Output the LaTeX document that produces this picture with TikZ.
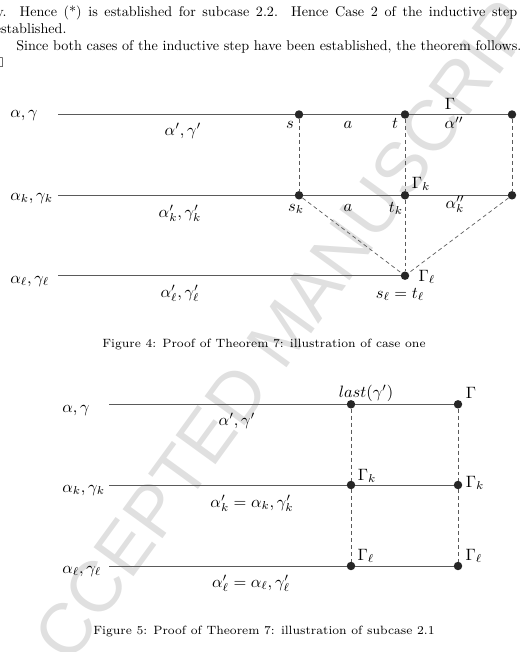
\documentclass[tikz,border=0pt]{standalone}
\usepackage{amsmath,amssymb}
\usepackage{fontspec}
\newfontfamily\markfont{Liberation Sans}
\usetikzlibrary{calc}
\definecolor{linegray}{RGB}{90,90,90}
\definecolor{markgray}{RGB}{224,224,224}

\tikzset{
  body/.style={scale=1.42,inner sep=0pt,anchor=base west},
  captext/.style={font=\scriptsize,scale=1.72,inner sep=0pt,anchor=base},
  lbl/.style={scale=1.65,inner sep=0pt,anchor=base},
  row/.style={linegray,line width=0.9pt},
  link/.style={linegray,line width=0.7pt,dash pattern=on 4pt off 3pt},
  dot/.style={circle,fill=black!85,inner sep=0pt,minimum size=8.5pt}
}

\begin{document}
\begin{tikzpicture}[x=1bp,y=-1bp]
  \useasboundingbox (0,0) rectangle (523,652);
  \clip (0,0) rectangle (523,652);
  % watermark
  \node[markgray,rotate=54,font=\markfont\fontsize{72}{72}\selectfont] (mark) at (282,332) {ACCEPTED MANUSCRIPT};
  % end of the proof
  \node[body] (line1) at (-4,17) {\makebox[366.9bp][s]{y.\ \ Hence (*) is established for subcase 2.2.\ \ Hence Case 2 of the inductive step}};
  \node[body] (line2) at (-5.5,34) {established.};
  \node[body] (line3) at (16,51) {Since both cases of the inductive step have been established, the theorem follows.};
  \node[body,anchor=base east] (qed) at (4,68) {$\square$};

  % figure 4: case one
  \coordinate (a0) at (58,114.5);
  \node[dot] (s) at (299,114.5) {};
  \node[dot] (t) at (405,114.5) {};
  \node[dot] (e) at (512,114.5) {};
  \coordinate (b0) at (58,195.3);
  \node[dot] (sk) at (299,195.3) {};
  \node[dot] (tk) at (405,195.3) {};
  \node[dot] (ek) at (512,195.3) {};
  \coordinate (c0) at (58,275.7);
  \node[dot] (sl) at (405,275.7) {};
  \draw[row] (a0) -- (s) -- (t) -- (e);
  \draw[row] (b0) -- (sk) -- (tk) -- (ek);
  \draw[row] (c0) -- (sl);
  \draw[link] (s) -- (sk);
  \draw[link] (t) -- (tk) -- (sl);
  \draw[link] (e) -- (ek);
  \draw[link] (sk) -- (sl);
  \draw[link] (ek) -- (sl);
  \node[lbl,anchor=base west] (ag) at (10,117.5) {$\alpha, \gamma$};
  \node[lbl,anchor=base west] (agk) at (10,200) {$\alpha_k, \gamma_k$};
  \node[lbl,anchor=base west] (agl) at (10,283) {$\alpha_\ell, \gamma_\ell$};
  \node[lbl] (ag1) at (183,135) {$\alpha', \gamma'$};
  \node[lbl] (agk1) at (180,217) {$\alpha'_k, \gamma'_k$};
  \node[lbl] (agl1) at (180,297) {$\alpha'_\ell, \gamma'_\ell$};
  \node[lbl] (ls) at (290,129) {$s$};
  \node[lbl] (la) at (348,129) {$a$};
  \node[lbl] (lt) at (395,129) {$t$};
  \node[lbl] (la2) at (454,129) {$\alpha''$};
  \node[lbl] (lG) at (450,109.5) {$\Gamma$};
  \node[lbl] (lsk) at (296,211) {$s_k$};
  \node[lbl] (lak) at (348,211) {$a$};
  \node[lbl] (ltk) at (396,212) {$t_k$};
  \node[lbl] (la2k) at (455,208) {$\alpha''_k$};
  \node[lbl] (lGk) at (421,188) {$\Gamma_k$};
  \node[lbl] (lGl) at (427,281) {$\Gamma_\ell$};
  \node[lbl] (lsl) at (400,298) {$s_\ell = t_\ell$};
  \node[captext] (cap4) at (264,347) {Figure 4: Proof of Theorem 7: illustration of case one};

  % figure 5: subcase 2.1
  \coordinate (p0) at (109,404.3);
  \node[dot] (p1) at (351,404.3) {};
  \node[dot] (p2) at (458,404.3) {};
  \coordinate (q0) at (109,485);
  \node[dot] (q1) at (351,485) {};
  \node[dot] (q2) at (458,485) {};
  \coordinate (r0) at (109,566);
  \node[dot] (r1) at (351,566) {};
  \node[dot] (r2) at (458,566) {};
  \draw[row] (p0) -- (p1) -- (p2);
  \draw[row] (q0) -- (q1) -- (q2);
  \draw[row] (r0) -- (r1) -- (r2);
  \draw[link] (p1) -- (q1) -- (r1);
  \draw[link] (p2) -- (q2) -- (r2);
  \node[lbl,anchor=base west] (mg) at (62,412.5) {$\alpha, \gamma$};
  \node[lbl,anchor=base west] (mgk) at (62,492) {$\alpha_k, \gamma_k$};
  \node[lbl,anchor=base west] (mgl) at (62,573) {$\alpha_\ell, \gamma_\ell$};
  \node[lbl] (mg1) at (237,425) {$\alpha', \gamma'$};
  \node[lbl] (mgk1) at (252,507) {$\alpha'_k = \alpha_k, \gamma'_k$};
  \node[lbl] (mgl1) at (251,587) {$\alpha'_\ell = \alpha_\ell, \gamma'_\ell$};
  \node[lbl] (last) at (366,397) {$last(\gamma')$};
  \node[lbl] (mG) at (471,398) {$\Gamma$};
  \node[lbl] (mGk) at (367,480) {$\Gamma_k$};
  \node[lbl] (mGk2) at (475,487) {$\Gamma_k$};
  \node[lbl] (mGl) at (366,560) {$\Gamma_\ell$};
  \node[lbl] (mGl2) at (474,560) {$\Gamma_\ell$};
  \node[captext] (cap5) at (264,634) {Figure 5: Proof of Theorem 7: illustration of subcase 2.1};
\end{tikzpicture}
\end{document}
